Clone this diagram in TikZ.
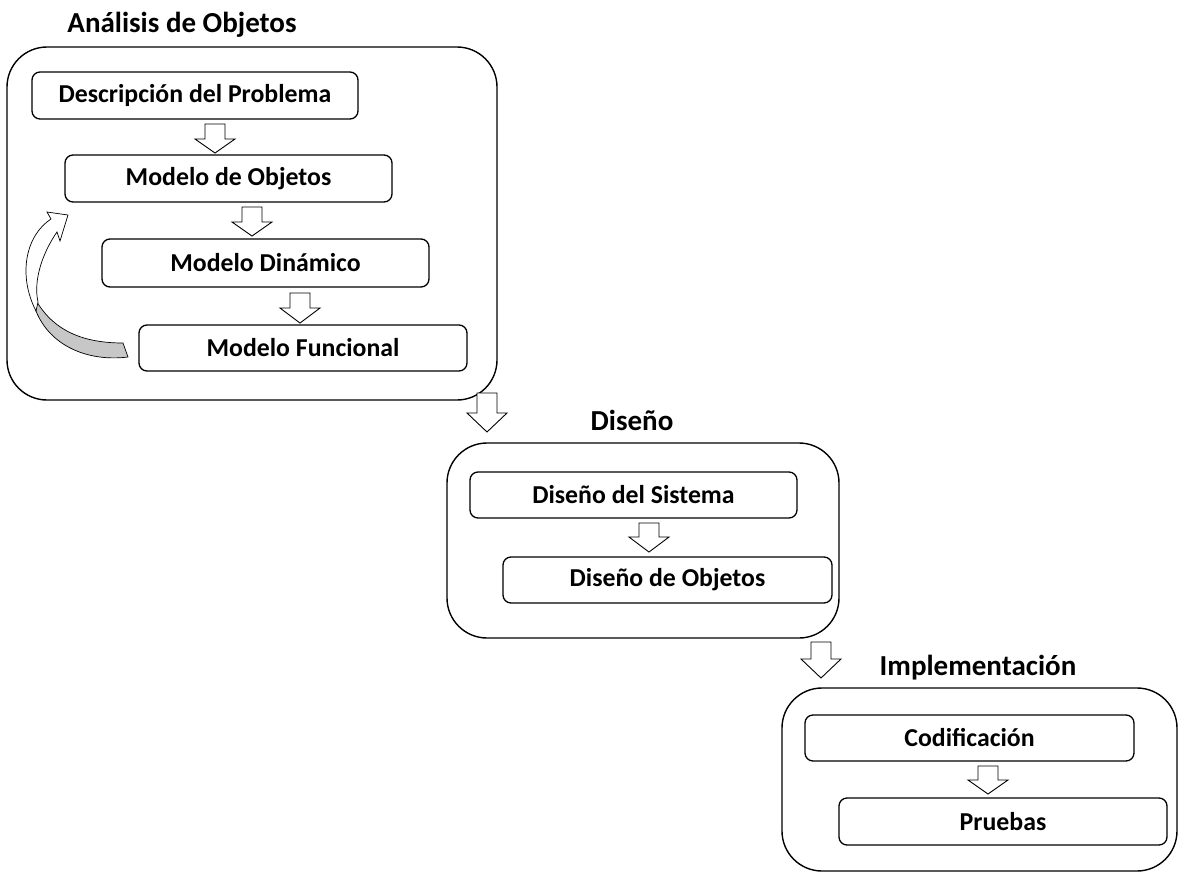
\documentclass[tikz,border=0pt]{standalone}
\usepackage{fontspec}
\setmainfont{Carlito}
\begin{document}
\begin{tikzpicture}[x=1pt,y=-1pt,
  stage/.style={draw, line width=1.4pt, rounded corners=40pt, inner sep=0pt},
  stepbox/.style={draw, line width=1.3pt, rounded corners=8pt, inner sep=0pt,
    font=\bfseries\fontsize{25.8}{30}\selectfont},
  title/.style={anchor=base, inner sep=0pt, font=\bfseries\fontsize{29}{34}\selectfont},
  arrowline/.style={draw, line width=0.9pt, fill=white, line join=miter},
  pics/blockdown/.style 2 args={code={
    \path[arrowline] (-10,0) -- (10,0) -- (10,#1) -- (20,#1) -- (0,{#1+#2})
      -- (-20,#1) -- (-10,#1) -- cycle;}}]
\useasboundingbox (0,0) rectangle (1179,873);

% ---- Análisis de Objetos ----
\node[title] (t1) at (182,32) {Análisis de Objetos};
\node[stage, minimum width=490pt, minimum height=353pt] (analisis) at (252,223.5) {};
\node[stepbox, minimum width=326pt, minimum height=47pt] (desc) at (195,95.5) {Descripción del Problema};
\node[stepbox, minimum width=327pt, minimum height=47pt] (mobj) at (228.5,178.5) {Modelo de Objetos};
\node[stepbox, minimum width=327pt, minimum height=48pt] (mdin) at (265.5,263) {Modelo Dinámico};
\node[stepbox, minimum width=328pt, minimum height=46pt] (mfun) at (303,348) {Modelo Funcional};

\coordinate (a1) at (215,124);
\coordinate (a2) at (252,207);
\coordinate (a3) at (300,293);
\pic at (a1) {blockdown={15}{14}};
\pic at (a2) {blockdown={15}{14}};
\pic at (a3) {blockdown={15}{15}};

% twisted return arrow from Modelo Funcional back to Modelo de Objetos
\path[draw, line width=0.7pt, fill=black!22]
  (37,302) .. controls (55,332) and (85,343) .. (123,343)
  -- (128,357) .. controls (88,362) and (50,346) .. (36,311) -- cycle;
\path[draw, line width=0.7pt, fill=white, line join=miter]
  (36,311) .. controls (18,276) and (25,236) .. (51,219)
  -- (47,212) -- (68,215) -- (60,241) -- (57,232)
  .. controls (43,252) and (33,280) .. (38,302) -- cycle;

% ---- Diseño ----
\coordinate (s1) at (487,393);
\pic at (s1) {blockdown={20}{19}};
\node[title] (t2) at (632,430) {Diseño};
\node[stage, minimum width=392pt, minimum height=195pt] (diseno) at (643,540.5) {};
\node[stepbox, minimum width=327pt, minimum height=46pt] (dsis) at (633.5,495) {Diseño del Sistema};
\node[stepbox, minimum width=329pt, minimum height=46pt] (dobj) at (667.5,580) {Diseño de Objetos};
\coordinate (a4) at (649,523);
\pic at (a4) {blockdown={14}{15}};

% ---- Implementación ----
\coordinate (s2) at (821,642);
\pic at (s2) {blockdown={17}{19}};
\node[title] (t3) at (978,675) {Implementación};
\node[stage, minimum width=395pt, minimum height=183pt] (impl) at (979.5,779.5) {};
\node[stepbox, minimum width=329pt, minimum height=46pt] (cod) at (969.5,738) {Codificación};
\node[stepbox, minimum width=328pt, minimum height=47pt] (prue) at (1003,821.5) {Pruebas};
\coordinate (a5) at (988,766);
\pic at (a5) {blockdown={14}{14}};
\end{tikzpicture}
\end{document}
